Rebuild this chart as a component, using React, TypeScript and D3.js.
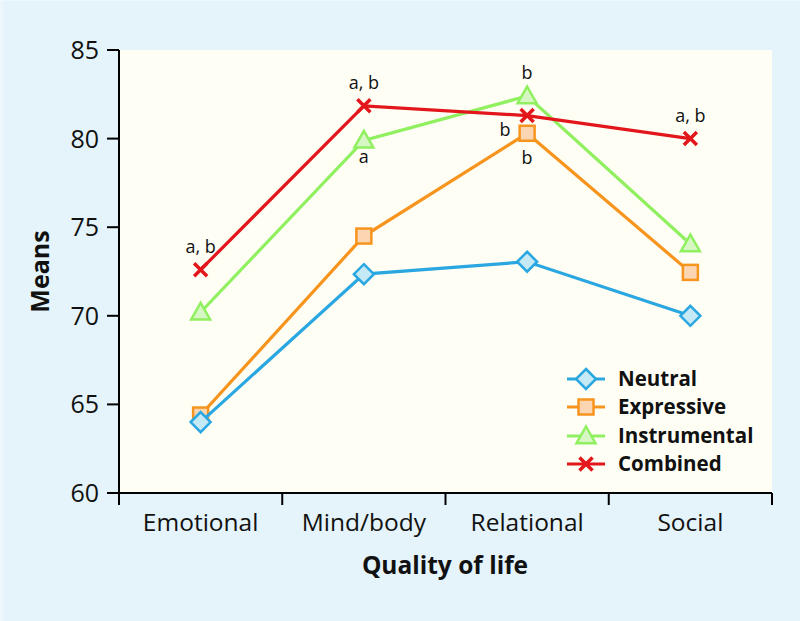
import React from "react";
import * as d3 from "d3";

const categories = ["Emotional", "Mind/body", "Relational", "Social"];
const seriesNames = ["Neutral", "Expressive", "Instrumental", "Combined"];
const neutral = [64.0, 72.35, 73.05, 70.0];
const expressive = [64.4, 74.5, 80.3, 72.45];
const instrumental = [70.2, 79.9, 82.4, 74.05];
const combined = [72.6, 81.85, 81.3, 80.0];
const yTicks = [60, 65, 70, 75, 80, 85];
const annotations = [
  { series: 3, cat: 0, text: "a, b", pos: "above" },
  { series: 3, cat: 1, text: "a, b", pos: "above" },
  { series: 2, cat: 1, text: "a", pos: "below" },
  { series: 2, cat: 2, text: "b", pos: "above" },
  { series: 1, cat: 2, text: "b", pos: "left" },
  { series: 1, cat: 2, text: "b", pos: "below" },
  { series: 3, cat: 3, text: "a, b", pos: "above" },
];

const W = 800, H = 621;
const left = 119, right = 772, top = 50, bottom = 493;
const font = "'Open Sans', 'Noto Sans', sans-serif";

const styles = [
  { stroke: "#2aa7e1", fill: "#c6e9f6", shape: "diamond" },
  { stroke: "#f7941e", fill: "#fcd6b2", shape: "square" },
  { stroke: "#90f060", fill: "#d6f6c4", shape: "triangle" },
  { stroke: "#e2161b", fill: "none", shape: "cross" },
];
const drawOrder = [1, 0, 2, 3];

function Marker({ shape, x, y, stroke, fill }) {
  const sw = 2.5;
  if (shape === "diamond") {
    const r = 10;
    return <path d={`M${x},${y - r}L${x + r},${y}L${x},${y + r}L${x - r},${y}Z`} fill={fill} stroke={stroke} strokeWidth={sw} />;
  }
  if (shape === "square") {
    const r = 7.5;
    return <rect x={x - r} y={y - r} width={2 * r} height={2 * r} fill={fill} stroke={stroke} strokeWidth={sw} />;
  }
  if (shape === "triangle") {
    const r = 9.5;
    return <path d={`M${x},${y - r}L${x + r},${y + r * 0.75}L${x - r},${y + r * 0.75}Z`} fill={fill} stroke={stroke} strokeWidth={sw} />;
  }
  const r = 6.5;
  return (
    <path d={`M${x - r},${y - r}L${x + r},${y + r}M${x - r},${y + r}L${x + r},${y - r}`} stroke={stroke} strokeWidth={3.5} fill="none" />
  );
}

export default function App() {
  const data = [neutral, expressive, instrumental, combined];
  const x = d3.scaleBand().domain(categories).range([left, right]);
  const y = d3.scaleLinear().domain([60, 85]).range([bottom, top]);
  const cx = (c) => (x(c) as number) + x.bandwidth() / 2;
  const line = d3.line<number>().x((_, i) => cx(categories[i])).y((d) => y(d));
  const legendX = 567, legendY = [379, 407, 436, 464];

  return (
    <svg width={W} height={H} style={{ position: "absolute", left: 0, top: 0, fontFamily: font }}>
      <rect x={0} y={0} width={W} height={H} fill="#edf8fc" />
      <rect x={3} y={1} width={W - 3} height={H - 1} fill="#e4f4fa" />
      <rect x={left} y={top} width={right - left} height={bottom - top} fill="#fefef5" />
      {/* y axis */}
      <line x1={left} x2={left} y1={top} y2={bottom + 12} stroke="#000" strokeWidth={2} />
      {yTicks.map((t) => (
        <g key={t}>
          <line x1={left - 12} x2={left} y1={y(t)} y2={y(t)} stroke="#000" strokeWidth={2} />
          <text x={99} y={y(t)} dy="0.36em" textAnchor="end" fontSize={25} fill="#111">{t}</text>
        </g>
      ))}
      {/* x axis */}
      <line x1={left} x2={right} y1={bottom} y2={bottom} stroke="#000" strokeWidth={2} />
      {[...categories.map((c) => x(c) as number), right].map((p, i) => (
        <line key={i} x1={p} x2={p} y1={bottom} y2={bottom + 12} stroke="#000" strokeWidth={2} />
      ))}
      {categories.map((c) => (
        <text key={c} x={cx(c)} y={531} textAnchor="middle" fontSize={24.5} fill="#111">{c}</text>
      ))}
      <text x={445} y={574} textAnchor="middle" fontSize={24.5} fontWeight="bold" fill="#111">Quality of life</text>
      <text transform={`translate(49,${(top + bottom) / 2}) rotate(-90)`} textAnchor="middle" fontSize={25} fontWeight="bold" fill="#111">Means</text>
      {/* series */}
      {drawOrder.map((s) => (
        <g key={s}>
          <path d={line(data[s]) as string} fill="none" stroke={styles[s].stroke} strokeWidth={3.2} />
          {data[s].map((v, i) => (
            <Marker key={i} shape={styles[s].shape} x={cx(categories[i])} y={y(v)} stroke={styles[s].stroke} fill={styles[s].fill} />
          ))}
        </g>
      ))}
      {/* annotations */}
      {annotations.map((a, k) => {
        const px = cx(categories[a.cat]);
        const py = y(data[a.series][a.cat]);
        let tx = px, ty = py;
        if (a.pos === "above") ty = py - 17;
        if (a.pos === "below") ty = py + 23;
        if (a.pos === "left") { tx = px - 22; ty = py + 3; }
        if (a.series === 1 && a.pos === "below") ty = py + 31;
        return <text key={k} x={tx} y={ty} textAnchor="middle" fontSize={18} fill="#111">{a.text}</text>;
      })}
      {/* legend */}
      {seriesNames.map((n, i) => (
        <g key={n}>
          <line x1={legendX} x2={legendX + 38} y1={legendY[i]} y2={legendY[i]} stroke={styles[i].stroke} strokeWidth={3.2} />
          <Marker shape={styles[i].shape} x={legendX + 19} y={legendY[i]} stroke={styles[i].stroke} fill={styles[i].fill} />
          <text x={618} y={legendY[i]} dy="0.36em" fontSize={20.5} fontWeight="bold" fill="#111">{n}</text>
        </g>
      ))}
    </svg>
  );
}
